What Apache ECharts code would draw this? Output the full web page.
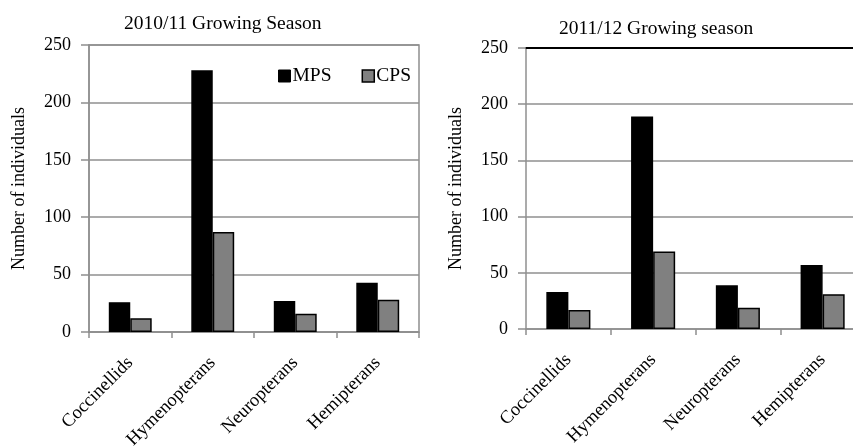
<!DOCTYPE html>
<html>
<head>
<meta charset="utf-8">
<script src="https://cdn.jsdelivr.net/npm/echarts@6/dist/echarts.min.js"></script>
<style>
html,body{margin:0;padding:0;background:#fff;}
#chart{width:853px;height:446px;}
</style>
</head>
<body>
<div id="chart"></div>
<script>
var categories = ['Coccinellids', 'Hymenopterans', 'Neuropterans', 'Hemipterans'];
var seriesNames = ['MPS', 'CPS'];
var mps2010 = [26, 228, 27, 43];
var cps2010 = [12, 87, 16, 28];
var mps2011 = [33, 189, 39, 57];
var cps2011 = [17, 69, 19, 31];
var yTicks = [0, 50, 100, 150, 200, 250];
var titles = ['2010/11 Growing Season', '2011/12 Growing season'];
var yName = 'Number of individuals';

var FONT = 'Liberation Serif';
var AXIS_GRAY = '#8f8f8f';

function xAxis(gi) {
  return {
    type: 'category', gridIndex: gi, data: categories,
    axisLine: { lineStyle: { color: AXIS_GRAY, width: 1.5 } },
    axisTick: { show: true, length: 6, lineStyle: { color: AXIS_GRAY, width: 1.5 } },
    axisLabel: { rotate: 45, margin: 28, color: '#000', fontFamily: FONT, fontSize: 18.5 }
  };
}
function yAxis(gi) {
  return {
    type: 'value', gridIndex: gi, min: yTicks[0], max: yTicks[yTicks.length - 1], interval: 50,
    name: yName, nameLocation: 'middle', nameGap: 61,
    nameTextStyle: { color: '#000', fontFamily: FONT, fontSize: 18 },
    axisLine: { show: true, lineStyle: { color: AXIS_GRAY, width: 1.5 } },
    axisTick: { show: true, length: 8, lineStyle: { color: AXIS_GRAY, width: 1.5 } },
    axisLabel: { margin: 18, color: '#000', fontFamily: FONT, fontSize: 18 },
    splitLine: { show: true, lineStyle: { color: AXIS_GRAY, width: 1.5 } }
  };
}
function bars(name, data, gi, color) {
  return {
    type: 'bar', name: name, xAxisIndex: gi, yAxisIndex: gi, data: data,
    barWidth: '26%', barGap: '0%',
    itemStyle: { color: color, borderColor: '#000', borderWidth: 1.5 },
    emphasis: { disabled: true }, animation: false
  };
}

var chart = echarts.init(document.getElementById('chart'), null, { renderer: 'canvas' });
chart.setOption({
  animation: false,
  backgroundColor: '#fff',
  title: [
    { text: titles[0], left: 124, top: 14, padding: 0, textStyle: { fontFamily: FONT, fontSize: 19.5, fontWeight: 'normal', color: '#000' } },
    { text: titles[1], left: 559, top: 19, padding: 0, textStyle: { fontFamily: FONT, fontSize: 19.5, fontWeight: 'normal', color: '#000' } }
  ],
  legend: {
    data: [
      { name: seriesNames[0], itemStyle: { color: '#000', borderColor: '#000', borderWidth: 1 } },
      { name: seriesNames[1], itemStyle: { color: '#808080', borderColor: '#000', borderWidth: 1.5 } }
    ],
    left: 278, top: 66, padding: 0, itemWidth: 12, itemHeight: 12, itemGap: 30,
    icon: 'rect',
    textStyle: { fontFamily: FONT, fontSize: 19.5, color: '#000', padding: [0, 0, 0, -3] }
  },
  grid: [
    { left: 89, top: 45, width: 330, height: 287, outerBoundsMode: 'none', containLabel: false, show: true, borderColor: AXIS_GRAY, borderWidth: 1.5, backgroundColor: 'transparent' },
    { left: 526, top: 48, width: 339, height: 281, outerBoundsMode: 'none', containLabel: false },
    { left: 526, top: 48, width: 339, height: 281, outerBoundsMode: 'none', containLabel: false }
  ],
  xAxis: [
    xAxis(0), xAxis(1),
    { type: 'category', gridIndex: 2, position: 'top', data: categories,
      axisLine: { show: true, onZero: false, lineStyle: { color: '#000', width: 2 } },
      axisTick: { show: false }, axisLabel: { show: false }, splitLine: { show: false } }
  ],
  yAxis: [
    yAxis(0), yAxis(1),
    { type: 'value', gridIndex: 2, show: false, min: 0, max: 250 }
  ],
  series: [
    bars(seriesNames[0], mps2010, 0, '#000'),
    bars(seriesNames[1], cps2010, 0, '#808080'),
    bars(seriesNames[0], mps2011, 1, '#000'),
    bars(seriesNames[1], cps2011, 1, '#808080')
  ]
});
</script>
</body>
</html>
